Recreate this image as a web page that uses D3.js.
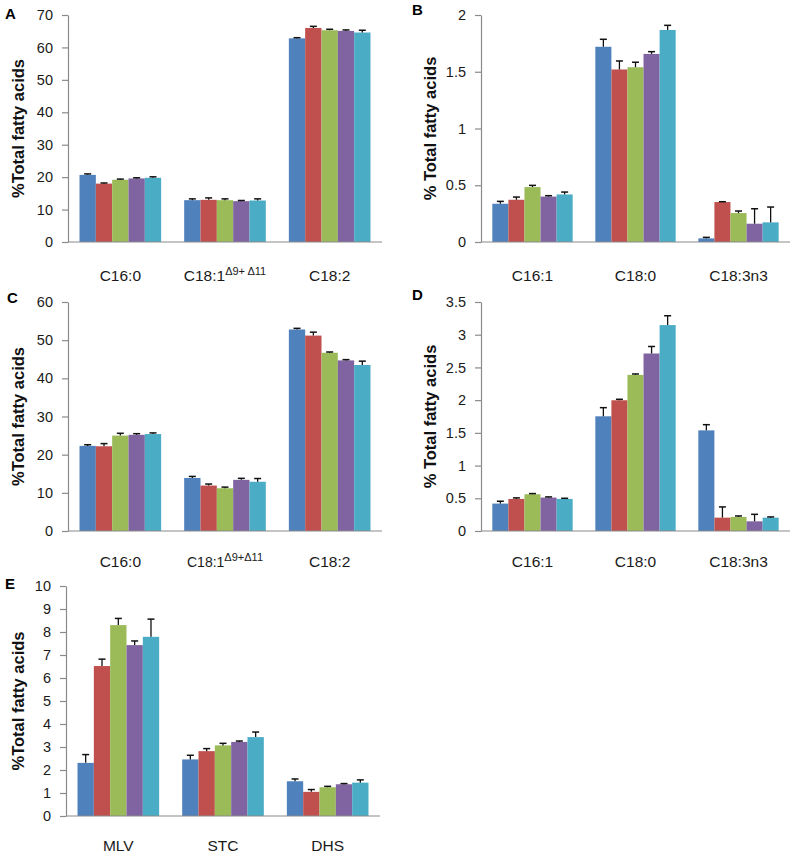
<!DOCTYPE html>
<html>
<head>
<meta charset="utf-8">
<script src="https://cdn.jsdelivr.net/npm/d3@7"></script>
<style>
  html, body { margin: 0; padding: 0; background: #fff; }
  svg { display: block; font-family: Arial, "Liberation Sans", sans-serif; }
</style>
</head>
<body>
<svg id="chart" width="794" height="854"></svg>
<script>
const seriesColors = ["#4F81BD", "#C0504D", "#9BBB59", "#8064A2", "#4BACC6"];

const catsA = ["C16:0", "C18:1", "C18:2"];
const supA = ["", "Δ9+ Δ11", ""];
const valuesA = [[20.7, 18.0, 19.2, 19.6, 19.8], [12.9, 13.0, 12.9, 12.6, 12.8], [62.8, 66.0, 65.3, 65.1, 64.6]];
const errA = [[0.3, 0.2, 0.2, 0.2, 0.3], [0.4, 0.6, 0.4, 0.2, 0.5], [0.2, 0.5, 0.3, 0.3, 0.7]];
const ticksA = [0, 10, 20, 30, 40, 50, 60, 70];

const catsB = ["C16:1", "C18:0", "C18:3n3"];
const valuesB = [[0.337, 0.372, 0.484, 0.40, 0.419], [1.72, 1.52, 1.54, 1.657, 1.868], [0.032, 0.352, 0.255, 0.161, 0.173]];
const errB = [[0.021, 0.024, 0.015, 0.008, 0.021], [0.066, 0.075, 0.044, 0.02, 0.041], [0.009, 0.003, 0.018, 0.132, 0.135]];
const ticksB = [0, 0.5, 1, 1.5, 2];

const catsC = ["C16:0", "C18:1", "C18:2"];
const supC = ["", "Δ9+Δ11", ""];
const valuesC = [[22.3, 22.2, 25.0, 25.2, 25.4], [13.9, 11.9, 11.2, 13.4, 12.9], [52.8, 51.2, 46.7, 44.7, 43.5]];
const errC = [[0.3, 0.7, 0.6, 0.3, 0.3], [0.4, 0.4, 0.3, 0.4, 0.85], [0.3, 0.9, 0.2, 0.2, 1.0]];
const ticksC = [0, 10, 20, 30, 40, 50, 60];

const catsD = ["C16:1", "C18:0", "C18:3n3"];
const valuesD = [[0.419, 0.49, 0.562, 0.511, 0.49], [1.753, 1.998, 2.386, 2.713, 3.147], [1.538, 0.204, 0.215, 0.148, 0.204]];
const errD = [[0.036, 0.016, 0.01, 0.01, 0.01], [0.132, 0.015, 0.014, 0.107, 0.143], [0.087, 0.164, 0.015, 0.107, 0.011]];
const ticksD = [0, 0.5, 1, 1.5, 2, 2.5, 3, 3.5];

const catsE = ["MLV", "STC", "DHS"];
const valuesE = [[2.31, 6.52, 8.30, 7.43, 7.79], [2.46, 2.82, 3.07, 3.22, 3.43], [1.51, 1.05, 1.25, 1.38, 1.45]];
const errE = [[0.36, 0.30, 0.29, 0.18, 0.77], [0.18, 0.11, 0.09, 0.04, 0.22], [0.10, 0.10, 0.04, 0.03, 0.12]];
const ticksE = [0, 1, 2, 3, 4, 5, 6, 7, 8, 9, 10];

const panels = [
  {letter: "A", cats: catsA, sup: supA, values: valuesA, err: errA, ticks: ticksA, title: "%Total fatty acids",
   x0: 68, x1: 382, top: 15, bottom: 242, lx: 5, ly: 19, tx: 18, xlabY: 281, xfs: 15.5},
  {letter: "B", cats: catsB, sup: null, values: valuesB, err: errB, ticks: ticksB, title: "% Total fatty acids",
   x0: 481, x1: 790, top: 15, bottom: 242, lx: 412, ly: 15, tx: 430, xlabY: 281, xfs: 15.5},
  {letter: "C", cats: catsC, sup: supC, values: valuesC, err: errC, ticks: ticksC, title: "%Total fatty acids",
   x0: 68, x1: 382, top: 302, bottom: 531, lx: 7, ly: 303, tx: 18, xlabY: 567, xfs: 15.5, catfs: 14},
  {letter: "D", cats: catsD, sup: null, values: valuesD, err: errD, ticks: ticksD, title: "% Total fatty acids",
   x0: 481, x1: 790, top: 302, bottom: 531, lx: 412, ly: 300, tx: 430, xlabY: 567, xfs: 15.5},
  {letter: "E", cats: catsE, sup: null, values: valuesE, err: errE, ticks: ticksE, title: "%Total fatty acids",
   x0: 66, x1: 380, top: 586, bottom: 816, lx: 5, ly: 589, tx: 18, xlabY: 851, xfs: 15.5}
];

const svg = d3.select("#chart");
const axisColor = "#8a8a8a";

panels.forEach(p => {
  const g = svg.append("g");
  const x = d3.scaleBand().domain(p.cats).range([p.x0, p.x1]).paddingInner(0.22).paddingOuter(0.11);
  const xs = d3.scaleBand().domain(d3.range(seriesColors.length)).range([0, x.bandwidth()]).padding(0);
  const ymax = p.ticks[p.ticks.length - 1];
  const y = d3.scaleLinear().domain([0, ymax]).range([p.bottom, p.top]);

  // y axis
  const ya = g.append("g").attr("transform", `translate(${p.x0},0)`)
    .call(d3.axisLeft(y).tickValues(p.ticks).tickSize(6).tickSizeOuter(0).tickPadding(9)
      .tickFormat(d3.format("~g")));
  ya.select(".domain").attr("stroke", axisColor).attr("stroke-width", 1.2);
  ya.selectAll(".tick line").attr("stroke", axisColor).attr("stroke-width", 1.2);
  ya.selectAll(".tick text").attr("fill", "#1a1a1a").style("font-size", "14.5px")
    .style("font-family", "Arial, 'Liberation Sans', sans-serif");

  // bars
  p.cats.forEach((c, ci) => {
    const gg = g.append("g").attr("transform", `translate(${x(c)},0)`);
    gg.selectAll("rect").data(p.values[ci]).join("rect")
      .attr("x", (d, i) => xs(i))
      .attr("width", xs.bandwidth())
      .attr("y", d => y(d))
      .attr("height", d => p.bottom - y(d))
      .attr("fill", (d, i) => seriesColors[i]);
    // error bars (positive only)
    p.err[ci].forEach((e, i) => {
      const cx = xs(i) + xs.bandwidth() / 2;
      const v = p.values[ci][i];
      gg.append("line").attr("x1", cx).attr("x2", cx).attr("y1", y(v)).attr("y2", y(v + e))
        .attr("stroke", "#111").attr("stroke-width", 1.3);
      gg.append("line").attr("x1", cx - 3.5).attr("x2", cx + 3.5).attr("y1", y(v + e)).attr("y2", y(v + e))
        .attr("stroke", "#111").attr("stroke-width", 1.5);
    });
  });

  // x axis line
  g.append("line").attr("x1", p.x0).attr("x2", p.x1).attr("y1", p.bottom).attr("y2", p.bottom)
    .attr("stroke", axisColor).attr("stroke-width", 1.2);

  // x labels
  p.cats.forEach((c, ci) => {
    const t = g.append("text")
      .attr("x", x(c) + x.bandwidth() / 2)
      .attr("y", p.xlabY)
      .attr("text-anchor", "middle")
      .attr("fill", "#1a1a1a")
      .style("font-size", (p.sup && p.sup[ci] && p.catfs ? p.catfs : p.xfs) + "px");
    t.append("tspan").text(c);
    if (p.sup && p.sup[ci]) {
      t.append("tspan").attr("dy", -6).style("font-size", "11px").text(p.sup[ci]);
    }
  });

  // y title
  g.append("text")
    .attr("transform", `translate(${p.tx},${(p.top + p.bottom) / 2}) rotate(-90)`)
    .attr("text-anchor", "middle")
    .attr("dy", "0.35em")
    .attr("font-weight", "bold")
    .attr("fill", "#111")
    .style("font-size", "16.5px")
    .text(p.title);

  // panel letter
  g.append("text").attr("x", p.lx).attr("y", p.ly)
    .attr("font-weight", "bold").attr("fill", "#000")
    .style("font-size", "15px").text(p.letter);
});
</script>
</body>
</html>
